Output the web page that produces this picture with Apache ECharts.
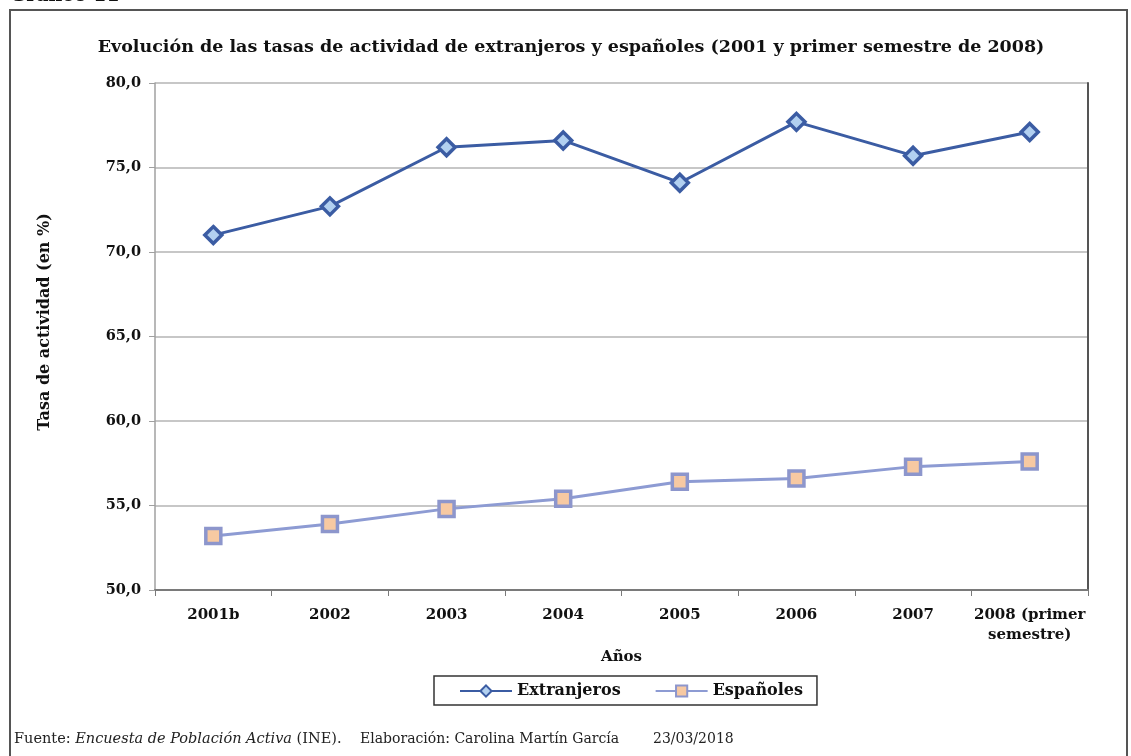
<!DOCTYPE html>
<html>
<head>
<meta charset="utf-8">
<script src="https://cdn.jsdelivr.net/npm/echarts@6/dist/echarts.min.js"></script>
<style>
  html, body { margin: 0; padding: 0; background: #fff; }
  #chart { width: 1131px; height: 756px; }
</style>
</head>
<body>
<div id="chart"></div>
<script>
const years = ['2001b', '2002', '2003', '2004', '2005', '2006', '2007', '2008 (primer\nsemestre)']
const extranjeros = [71.0, 72.7, 76.2, 76.6, 74.1, 77.7, 75.7, 77.1]
const espanoles = [53.2, 53.9, 54.8, 55.4, 56.4, 56.6, 57.3, 57.6]

// the original uses a wide Times-like face; DejaVu Serif gets close to its widths
const serif = '"DejaVu Serif", "Liberation Serif", serif'

const chart = echarts.init(document.getElementById('chart'))

chart.setOption({
  animation: false,
  textStyle: { fontFamily: serif },
  title: {
    text: 'Evolución de las tasas de actividad de extranjeros y españoles (2001 y primer semestre de 2008)',
    left: 566,
    top: 33,
    textAlign: 'center',
    textStyle: { fontFamily: serif, fontSize: 17.5, fontWeight: 'bold', color: '#111' }
  },
  legend: {
    left: 434,
    top: 676,
    itemGap: 34,
    itemWidth: 52,
    itemHeight: 14,
    padding: [7, 14, 6, 25],
    borderColor: '#333',
    borderWidth: 1.5,
    borderRadius: 0,
    textStyle: { fontFamily: serif, fontSize: 16, fontWeight: 'bold', color: '#111' },
    data: ['Extranjeros', 'Españoles']
  },
  grid: { left: 155, right: 43, top: 83, bottom: 166 },
  xAxis: {
    type: 'category',
    data: years,
    boundaryGap: true,
    name: 'Años',
    nameLocation: 'middle',
    nameGap: 52,
    nameTextStyle: { fontFamily: serif, fontSize: 15, fontWeight: 'bold', color: '#111' },
    axisLine: { lineStyle: { color: '#7a7a7a', width: 2 } },
    axisTick: { show: true, length: 6, lineStyle: { color: '#7a7a7a' } },
    axisLabel: {
      interval: 0,
      margin: 15,
      fontFamily: serif,
      fontSize: 15,
      fontWeight: 'bold',
      color: '#111',
      lineHeight: 20
    }
  },
  yAxis: [{
    type: 'value',
    min: 50,
    max: 80,
    interval: 5,
    axisLine: { show: true, lineStyle: { color: '#a0a0a0', width: 1.5 } },
    axisTick: { show: true, length: 6, lineStyle: { color: '#a0a0a0' } },
    axisLabel: {
      margin: 14,
      fontFamily: serif,
      fontSize: 14.5,
      fontWeight: 'bold',
      color: '#111',
      formatter: v => v.toFixed(1).replace('.', ',')
    },
    splitLine: { lineStyle: { color: '#b4b4b4', width: 1.5 } }
  }, {
    type: 'value',
    position: 'right',
    min: 50,
    max: 80,
    interval: 5,
    axisLine: { show: true, lineStyle: { color: '#555', width: 2 } },
    axisTick: { show: false },
    axisLabel: { show: false },
    splitLine: { show: false }
  }],
  series: [{
    name: 'Extranjeros',
    type: 'line',
    data: extranjeros,
    symbol: 'diamond',
    symbolSize: 17,
    lineStyle: { color: '#3b5ca3', width: 3 },
    itemStyle: { color: '#b2d0f0', borderColor: '#3b5ca3', borderWidth: 3.5 }
  }, {
    name: 'Españoles',
    type: 'line',
    data: espanoles,
    symbol: 'rect',
    symbolSize: 15,
    lineStyle: { color: '#8d9bd3', width: 3 },
    itemStyle: { color: '#f7c9a2', borderColor: '#8d96cc', borderWidth: 3.5 }
  }],
  graphic: [{
    type: 'rect',
    shape: { x: 10, y: 10, width: 1117, height: 760 },
    style: { fill: null, stroke: '#555', lineWidth: 2 },
    silent: true
  }, {
    type: 'text',
    left: 10,
    top: -13,
    style: { text: 'Gráfico 11', font: 'bold 19px ' + serif, fill: '#111' }
  }, {
    type: 'text',
    x: 45,
    y: 322,
    rotation: Math.PI / 2,
    style: {
      text: 'Tasa de actividad (en %)',
      font: 'bold 16px ' + serif,
      fill: '#111',
      align: 'center',
      verticalAlign: 'middle'
    }
  }, {
    type: 'text',
    left: 14,
    top: 732,
    style: {
      text: '{n|Fuente: }{i|Encuesta de Población Activa}{n| (INE).}',
      rich: {
        n: { fontFamily: serif, fontSize: 14.5, fill: '#222' },
        i: { fontFamily: serif, fontSize: 14.5, fontStyle: 'italic', fill: '#222' }
      }
    }
  }, {
    type: 'text',
    left: 360,
    top: 732,
    style: { text: 'Elaboración: Carolina Martín García', font: '14px ' + serif, fill: '#222' }
  }, {
    type: 'text',
    left: 653,
    top: 732,
    style: { text: '23/03/2018', font: '14px ' + serif, fill: '#222' }
  }]
})
</script>
</body>
</html>
